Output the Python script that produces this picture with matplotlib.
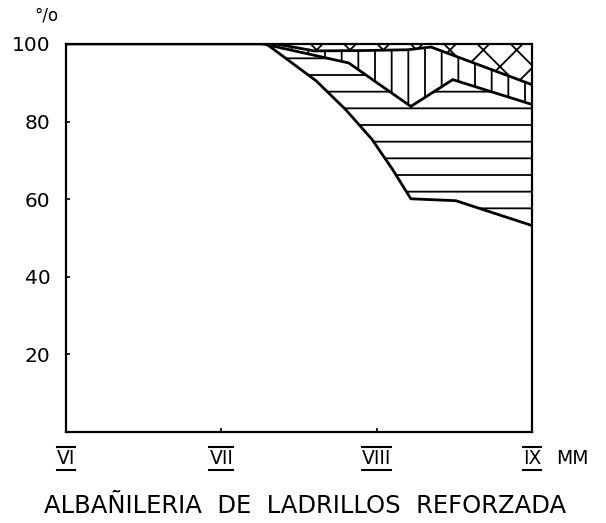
import numpy as np
import matplotlib
matplotlib.use("Agg")
import matplotlib.pyplot as plt
from matplotlib.lines import Line2D

# intensity (MM scale) on x, cumulative percentage on y
x_ticks = [6, 7, 8, 9]
x_labels = ["VI", "VII", "VIII", "IX"]
y_ticks = [20, 40, 60, 80, 100]

# lower boundary of the horizontal-hatched band (white below)
x_c1 = [6.0, 7.29, 7.61, 7.80, 7.97, 8.10, 8.22, 8.51, 9.0]
y_c1 = [100, 100, 90.5, 83.1, 75.4, 67.8, 60.1, 59.6, 53.2]
# top of horizontal band / bottom of vertical-hatched band
x_c2 = [7.27, 7.82, 8.22, 8.49, 9.0]
y_c2 = [100, 95.1, 83.9, 90.8, 84.4]
# top of vertical band / bottom of cross-hatched band
x_c3 = [7.35, 7.6, 7.92, 8.2, 8.35, 9.0]
y_c3 = [100, 98.2, 98.3, 98.5, 99.2, 89.5]

plt.rcParams['hatch.linewidth'] = 1.3
plt.rcParams['font.family'] = 'DejaVu Sans'

fig = plt.figure(figsize=(6.06, 5.23), dpi=100)
ax = fig.add_axes([0.1089, 0.174, 0.769, 0.742])

# bands as polygons between the curves
ax.fill(np.concatenate([x_c1[1:], x_c2[::-1]]), np.concatenate([y_c1[1:], y_c2[::-1]]),
        facecolor='white', edgecolor='black', hatch='-', linewidth=0)
ax.fill(np.concatenate([x_c2, x_c3[::-1]]), np.concatenate([y_c2, y_c3[::-1]]),
        facecolor='white', edgecolor='black', hatch='|', linewidth=0)
ax.fill(np.concatenate([x_c3, [9.0, x_c3[0]]]), np.concatenate([y_c3, [100, 100]]),
        facecolor='white', edgecolor='black', hatch='x', linewidth=0)

for xs, ys in [(x_c1, y_c1), (x_c2, y_c2), (x_c3, y_c3)]:
    ax.plot(xs, ys, color='black', lw=2, solid_joinstyle='miter')

ax.set_xlim(6, 9)
ax.set_ylim(0, 100)
for s in ax.spines.values():
    s.set_linewidth(1.6)
ax.set_xticks(x_ticks, x_labels, fontsize=13.5)
ax.set_yticks(y_ticks, [str(v) for v in y_ticks], fontsize=14.5)
ax.tick_params(axis='both', direction='in', length=3, width=1.2, pad=11)
ax.tick_params(axis='x', pad=12.5)

fig.text(46 / 606, 1 - 15 / 523, "°/o", fontsize=12, ha='center', va='center')
fig.text(572 / 606, 1 - 459 / 523, "MM", fontsize=13.5, ha='center', va='center')
fig.text(305 / 606, 1 - 506 / 523, "ALBAÑILERIA  DE  LADRILLOS  REFORZADA",
         fontsize=17.5, ha='center', va='center')

# over- and underline the roman numerals
fig.canvas.draw()
W, H = fig.get_size_inches() * fig.dpi
for lab in ax.get_xticklabels():
    bb = lab.get_window_extent()
    for yy in (bb.y1 + 2, bb.y0 - 2):
        fig.add_artist(Line2D([bb.x0 / W, bb.x1 / W], [yy / H, yy / H],
                              color='black', lw=1.5))

fig.savefig("out.png", dpi=100)
